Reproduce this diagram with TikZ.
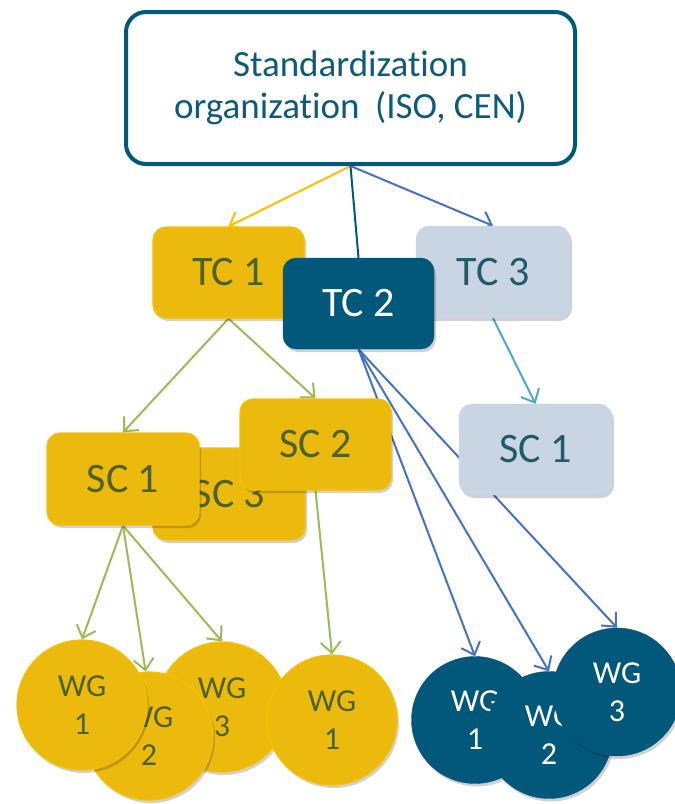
\documentclass[tikz,border=0pt]{standalone}
\usepackage{fontspec}
\setmainfont{Carlito}[Ligatures={NoCommon,NoRare,NoContextual}]
\usetikzlibrary{arrows.meta,shadows,backgrounds}
\definecolor{cGold}{HTML}{ECB90D}
\definecolor{cGoldEdge}{HTML}{F7C000}
\definecolor{cOlive}{HTML}{4F6228}
\definecolor{cTeal}{HTML}{02587A}
\definecolor{cTealText}{HTML}{0E5A7A}
\definecolor{cPale}{HTML}{C9D5E2}
\definecolor{cPaleText}{HTML}{215A6A}
\definecolor{cLeaf}{HTML}{9BBB59}
\definecolor{cAzure}{HTML}{4472C4}
\definecolor{cCyan}{HTML}{4BACC6}
\definecolor{cAmber}{HTML}{FFC000}
\tikzset{
  shade box/.style={drop shadow={shadow xshift=2pt,shadow yshift=-3pt,opacity=0.18,fill=black}},
  orgbox/.style={rectangle, rounded corners=13pt, minimum width=151pt, minimum height=91pt,
     inner sep=0pt, font=\fontsize{42}{42}\selectfont, shade box},
  ybox/.style={orgbox, fill=cGold, draw=cGoldEdge, line width=1.2pt, text=cOlive},
  dbox/.style={orgbox, fill=cTeal, draw=cTeal, text=white},
  pbox/.style={orgbox, fill=cPale, draw=cPale, text=cPaleText},
  wgnode/.style={circle, inner sep=0pt, align=center, font=\fontsize{32}{38}\selectfont, shade box},
  ywg/.style={wgnode, minimum size=130pt, fill=cGold, draw=cGoldEdge, line width=1.2pt, text=cOlive},
  dwg/.style={wgnode, minimum size=127pt, fill=cTeal, draw=cTeal, text=white},
  conn/.style={line width=2pt, -{Straight Barb[length=11pt,width=20pt]}},
}
\begin{document}
\begin{tikzpicture}[x=1pt,y=-1pt]
\useasboundingbox (0,0) rectangle (675,804);
% root
\node[rectangle, rounded corners=20pt, minimum width=449pt, minimum height=152pt,
      draw=cTeal, line width=4pt, fill=white, text=cTealText, align=center,
      font=\fontsize{37}{42}\selectfont] (root) at (350.5,88)
      {Standardizat\kern0pt ion\\organizat\kern0pt ion\hspace{0.2em} (ISO, CEN)};
% technical committees
\node[ybox] (tc1) at (228.5,272.5) {TC 1};
\node[pbox, minimum width=154pt, minimum height=92pt] (tc3) at (493,272) {TC 3};
\node[dbox] (tc2) at (358.5,303.5) {TC 2};
% subcommittees
\node[ybox, minimum width=152pt, minimum height=92pt] (sc3) at (229,494) {SC 3};
\node[ybox, minimum width=152pt, minimum height=92pt] (sc1) at (123,479) {SC 1};
\node[ybox] (sc2) at (315.5,444.5) {SC 2};
\node[pbox, minimum width=153pt] (scr) at (535.5,449.5) {SC 1};
% working groups (left)
\node[ywg] (wg3l) at (222,707) {WG\\3};
\node[ywg, minimum size=128pt] (wg2l) at (149,736) {WG\\2};
\node[ywg] (wg1l) at (82,705) {WG\\1};
\node[ywg] (wg4l) at (332,720) {WG\\1};
% working groups (right)
\node[dwg] (wg1r) at (475,720) {WG\\1};
\node[dwg] (wg2r) at (549,735) {WG\\2};
\node[dwg, minimum size=128pt] (wg3r) at (617,692) {WG\\3};
% connectors
\begin{pgfonlayer}{background}
\fill[white] (0,0) rectangle (675,804);
\draw[conn, cAmber] (root.south) -- (tc1.north);
\draw[line width=2pt, cTeal] (root.south) -- (tc2.north);
\draw[conn, cAzure] (root.south) -- (tc3.north);
\draw[conn, cLeaf] (tc1.south) -- (sc1.north);
\draw[conn, cLeaf] (tc1.south) -- (sc2.north);
\draw[conn, cCyan] (tc3.south) -- (scr.north);
\draw[conn, cLeaf] (sc1.south) -- (wg1l.north);
\draw[conn, cLeaf] (sc1.south) -- (wg2l.93);
\draw[conn, cLeaf] (sc1.south) -- (wg3l.north);
\draw[conn, cLeaf] (sc2.south) -- (wg4l.north);
\draw[conn, cAzure] (tc2.south) -- (wg1r.north);
\draw[conn, cAzure] (tc2.south) -- (wg2r.north);
\draw[conn, cAzure] (tc2.south) -- (wg3r.north);
\end{pgfonlayer}
\end{tikzpicture}
\end{document}
